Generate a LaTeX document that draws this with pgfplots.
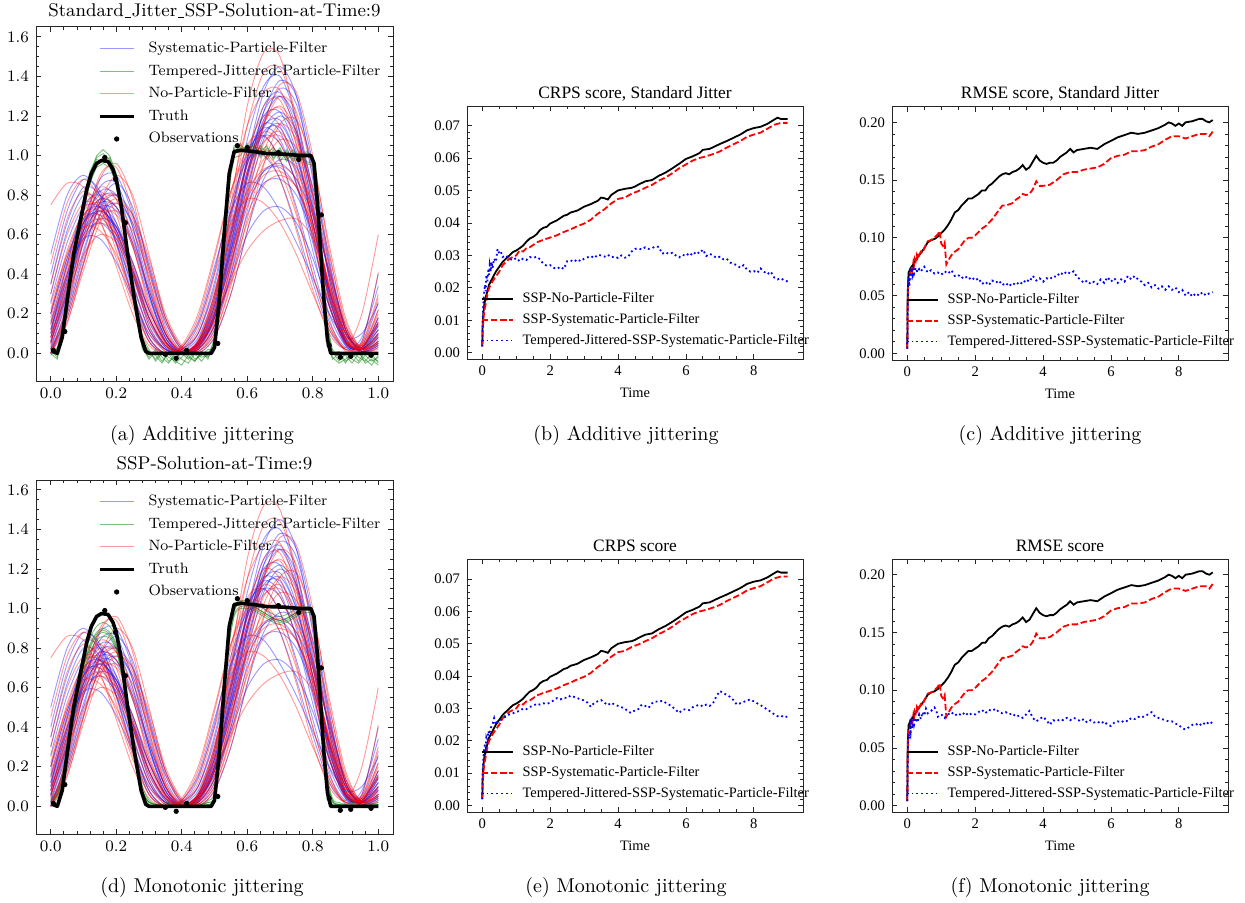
\documentclass[border=0pt]{standalone}
\usepackage{fontspec}
\usepackage{pgfplots}
\usepackage{pgfplotstable}
\pgfplotsset{compat=1.18}
\newfontfamily\timesf{Liberation Serif}
\newcommand\us{\kern0.03em\rule[-0.05em]{0.36em}{0.045em}\kern0.03em}

% ---------------- ensemble curves (rows = curves, transposed below) ----------------
\pgfplotstableread{
name c0 c1 c2 c3 c4 c5 c6 c7 c8 c9 c10 c11 c12 c13 c14 c15 c16 c17 c18 c19 c20
x 0 0.05 0.1 0.15 0.2 0.25 0.3 0.35 0.4 0.45 0.5 0.55 0.6 0.65 0.7 0.75 0.8 0.85 0.9 0.95 1.0
R1 0.05 0.40 0.72 0.82 0.70 0.42 0.14 0.02 0.01 0.06 0.28 0.62 0.92 1.07 1.10 0.95 0.62 0.25 0.05 0.03 0.12
R2 0.20 0.52 0.70 0.66 0.48 0.24 0.06 0.00 0.02 0.12 0.40 0.80 1.15 1.32 1.33 1.10 0.70 0.28 0.06 0.04 0.20
R3 0.00 0.25 0.62 0.90 0.94 0.72 0.38 0.10 0.00 0.02 0.12 0.38 0.66 0.85 0.90 0.84 0.64 0.35 0.10 0.00 0.03
R4 0.75 0.86 0.84 0.68 0.44 0.20 0.04 0.00 0.04 0.20 0.50 0.82 1.00 1.02 0.92 0.70 0.40 0.14 0.02 0.05 0.30
R5 0.10 0.30 0.50 0.60 0.56 0.40 0.18 0.04 0.00 0.06 0.30 0.72 1.15 1.42 1.44 1.20 0.78 0.32 0.06 0.02 0.10
R6 0.02 0.18 0.45 0.70 0.78 0.66 0.38 0.12 0.01 0.00 0.08 0.30 0.62 0.95 1.16 1.18 0.96 0.55 0.18 0.02 0.05
R7 0.35 0.68 0.82 0.74 0.52 0.26 0.06 0.00 0.03 0.15 0.40 0.66 0.78 0.76 0.66 0.50 0.30 0.12 0.02 0.03 0.15
R8 0.08 0.35 0.58 0.66 0.60 0.42 0.20 0.05 0.00 0.04 0.18 0.48 0.88 1.16 1.25 1.12 0.80 0.40 0.10 0.06 0.41
R9 0.00 0.22 0.58 0.88 0.96 0.78 0.42 0.12 0.00 0.03 0.25 0.75 1.25 1.52 1.50 1.15 0.62 0.18 0.01 0.03 0.15
R10 0.15 0.45 0.70 0.72 0.58 0.35 0.12 0.01 0.02 0.10 0.32 0.60 0.82 0.93 0.95 0.88 0.66 0.33 0.08 0.01 0.08
R11 0.45 0.76 0.88 0.78 0.55 0.28 0.08 0.00 0.03 0.18 0.48 0.82 1.03 1.02 0.88 0.62 0.32 0.10 0.03 0.20 0.60
R12 0.05 0.34 0.68 0.84 0.78 0.55 0.24 0.05 0.00 0.02 0.15 0.45 0.85 1.15 1.30 1.22 0.90 0.45 0.12 0.02 0.06
R13 0.25 0.50 0.64 0.62 0.50 0.30 0.10 0.01 0.00 0.05 0.18 0.36 0.52 0.62 0.67 0.68 0.58 0.34 0.10 0.02 0.10
R14 0.00 0.15 0.45 0.76 0.90 0.80 0.50 0.18 0.02 0.05 0.28 0.70 1.05 1.10 0.98 0.72 0.40 0.14 0.02 0.02 0.22
R15 0.12 0.42 0.68 0.80 0.78 0.60 0.32 0.10 0.01 0.04 0.22 0.58 0.98 1.25 1.28 1.05 0.66 0.28 0.06 0.02 0.09
R16 0.30 0.60 0.76 0.74 0.60 0.38 0.16 0.04 0.00 0.07 0.30 0.66 1.02 1.20 1.15 0.92 0.58 0.24 0.05 0.04 0.22
R17 0.04 0.26 0.56 0.76 0.80 0.68 0.44 0.18 0.03 0.01 0.10 0.36 0.72 1.02 1.16 1.08 0.80 0.42 0.12 0.02 0.05
R18 0.18 0.46 0.66 0.70 0.62 0.46 0.24 0.07 0.00 0.03 0.16 0.44 0.80 1.06 1.12 0.98 0.70 0.34 0.08 0.03 0.18
R19 0.08 0.36 0.64 0.78 0.74 0.54 0.26 0.06 0.00 0.06 0.26 0.62 0.96 1.12 1.06 0.86 0.60 0.30 0.08 0.02 0.07
R20 0.02 0.20 0.48 0.68 0.72 0.62 0.40 0.16 0.02 0.02 0.14 0.42 0.80 1.15 1.36 1.32 1.00 0.52 0.14 0.01 0.04
R21 0.22 0.50 0.72 0.76 0.64 0.42 0.18 0.04 0.00 0.05 0.22 0.50 0.76 0.90 0.92 0.84 0.64 0.36 0.12 0.04 0.16
R22 0.06 0.30 0.58 0.72 0.70 0.56 0.32 0.10 0.01 0.03 0.20 0.55 0.92 1.18 1.24 1.06 0.72 0.34 0.08 0.05 0.28
R23 0.14 0.40 0.62 0.68 0.60 0.44 0.22 0.06 0.00 0.04 0.18 0.46 0.78 0.98 1.02 0.92 0.72 0.42 0.14 0.02 0.06
R24 0.00 0.16 0.42 0.66 0.76 0.70 0.48 0.20 0.04 0.01 0.10 0.34 0.68 0.96 1.08 1.04 0.84 0.50 0.16 0.02 0.02
}\redraw
\pgfplotstabletranspose[colnames from=name]{\redT}{\redraw}

\pgfplotstableread{
name c0 c1 c2 c3 c4 c5 c6 c7 c8 c9 c10 c11 c12 c13 c14 c15 c16 c17 c18 c19 c20
x 0 0.05 0.1 0.15 0.2 0.25 0.3 0.35 0.4 0.45 0.5 0.55 0.6 0.65 0.7 0.75 0.8 0.85 0.9 0.95 1.0
B1 0.10 0.45 0.74 0.80 0.66 0.40 0.14 0.02 0.00 0.05 0.24 0.60 0.95 1.15 1.18 1.00 0.66 0.28 0.06 0.02 0.10
B2 0.02 0.28 0.62 0.84 0.86 0.64 0.30 0.06 0.00 0.03 0.18 0.50 0.88 1.18 1.30 1.18 0.82 0.38 0.08 0.01 0.06
B3 0.30 0.62 0.80 0.76 0.56 0.30 0.08 0.00 0.02 0.10 0.34 0.70 1.00 1.14 1.08 0.85 0.52 0.20 0.04 0.03 0.18
B4 0.05 0.30 0.56 0.68 0.64 0.46 0.22 0.06 0.00 0.04 0.20 0.55 0.98 1.32 1.45 1.30 0.88 0.38 0.06 0.02 0.12
B5 0.00 0.20 0.50 0.76 0.86 0.74 0.44 0.14 0.01 0.00 0.08 0.30 0.62 0.88 0.98 0.94 0.74 0.40 0.12 0.01 0.03
B6 0.40 0.72 0.88 0.82 0.60 0.32 0.08 0.00 0.02 0.14 0.42 0.76 0.98 1.00 0.88 0.64 0.36 0.12 0.02 0.08 0.34
B7 0.12 0.40 0.66 0.74 0.66 0.44 0.18 0.03 0.00 0.06 0.28 0.68 1.08 1.35 1.40 1.18 0.76 0.30 0.05 0.03 0.15
B8 0.06 0.32 0.64 0.82 0.80 0.60 0.30 0.08 0.00 0.02 0.14 0.40 0.70 0.86 0.88 0.80 0.60 0.32 0.10 0.02 0.06
B9 0.20 0.48 0.68 0.70 0.56 0.34 0.12 0.02 0.01 0.08 0.30 0.64 0.96 1.10 1.06 0.86 0.56 0.24 0.05 0.02 0.14
B10 0.00 0.24 0.56 0.78 0.80 0.64 0.34 0.10 0.00 0.02 0.18 0.52 0.90 1.22 1.38 1.30 0.96 0.48 0.12 0.01 0.05
B11 0.50 0.80 0.90 0.80 0.56 0.28 0.06 0.00 0.03 0.16 0.44 0.72 0.86 0.84 0.72 0.56 0.38 0.20 0.08 0.10 0.25
B12 0.08 0.36 0.62 0.72 0.64 0.42 0.18 0.04 0.00 0.05 0.22 0.56 0.92 1.14 1.22 1.12 0.84 0.44 0.12 0.02 0.08
B13 0.15 0.40 0.58 0.58 0.46 0.28 0.10 0.02 0.00 0.04 0.16 0.38 0.60 0.72 0.74 0.66 0.48 0.24 0.06 0.02 0.10
B14 0.03 0.30 0.66 0.88 0.90 0.70 0.36 0.10 0.00 0.03 0.20 0.58 0.98 1.25 1.32 1.14 0.72 0.26 0.04 0.02 0.18
B15 0.10 0.38 0.66 0.78 0.74 0.56 0.30 0.08 0.00 0.04 0.20 0.54 0.90 1.12 1.14 0.96 0.66 0.30 0.06 0.02 0.08
B16 0.26 0.56 0.74 0.74 0.62 0.40 0.18 0.04 0.00 0.06 0.26 0.62 0.98 1.16 1.12 0.90 0.58 0.24 0.05 0.03 0.16
B17 0.02 0.22 0.52 0.74 0.80 0.70 0.46 0.18 0.03 0.01 0.12 0.40 0.78 1.08 1.20 1.10 0.80 0.40 0.10 0.01 0.04
B18 0.16 0.44 0.66 0.72 0.64 0.46 0.22 0.06 0.00 0.04 0.18 0.48 0.84 1.10 1.16 1.00 0.70 0.32 0.07 0.02 0.12
B19 0.06 0.32 0.60 0.74 0.72 0.54 0.28 0.08 0.00 0.05 0.24 0.60 0.96 1.20 1.22 1.02 0.66 0.28 0.06 0.02 0.09
B20 0.00 0.18 0.46 0.70 0.76 0.66 0.42 0.16 0.02 0.02 0.14 0.44 0.82 1.16 1.34 1.26 0.92 0.46 0.12 0.01 0.04
B21 0.20 0.48 0.70 0.74 0.62 0.40 0.16 0.03 0.00 0.06 0.24 0.52 0.78 0.92 0.94 0.84 0.62 0.32 0.10 0.03 0.14
B22 0.08 0.34 0.62 0.76 0.74 0.58 0.32 0.10 0.01 0.03 0.18 0.52 0.90 1.22 1.30 1.12 0.74 0.32 0.07 0.04 0.26
B23 0.12 0.38 0.60 0.66 0.58 0.42 0.22 0.06 0.00 0.05 0.20 0.46 0.74 0.92 0.96 0.88 0.70 0.42 0.14 0.02 0.05
B24 0.35 0.66 0.84 0.80 0.62 0.36 0.12 0.02 0.01 0.10 0.36 0.72 1.02 1.10 0.98 0.74 0.44 0.16 0.03 0.06 0.40
}\blueraw
\pgfplotstabletranspose[colnames from=name]{\blueT}{\blueraw}

% tempered-jittered ensemble, additive jittering
\pgfplotstableread{
x g1 g2 g3 g4 g5
0.00 0.02 -0.01 0.03 0.00 0.01
0.02 -0.02 0.03 0.01 -0.03 0.02
0.04 0.16 0.12 0.18 0.13 0.15
0.06 0.41 0.36 0.42 0.38 0.40
0.08 0.61 0.57 0.62 0.56 0.60
0.10 0.78 0.73 0.76 0.72 0.77
0.12 0.92 0.87 0.90 0.86 0.91
0.14 0.99 0.94 1.00 0.95 0.98
0.16 1.01 0.96 1.03 0.99 0.97
0.18 0.98 0.94 1.00 0.96 0.99
0.20 0.90 0.86 0.91 0.85 0.89
0.22 0.71 0.67 0.72 0.66 0.70
0.24 0.46 0.42 0.47 0.41 0.45
0.26 0.24 0.20 0.25 0.19 0.23
0.28 0.06 0.03 0.08 0.02 0.05
0.30 0.01 -0.03 0.02 -0.02 0.00
0.32 -0.03 0.01 -0.04 0.02 -0.01
0.34 0.01 -0.04 0.00 -0.02 -0.05
0.36 -0.04 0.00 -0.02 -0.05 0.01
0.38 -0.02 -0.05 -0.04 0.00 -0.03
0.40 0.00 -0.02 -0.06 -0.03 0.01
0.42 -0.03 0.02 -0.01 -0.05 -0.02
0.44 0.01 -0.03 -0.04 0.00 -0.04
0.46 -0.02 -0.01 0.01 -0.04 0.00
0.48 -0.01 0.02 -0.03 0.00 -0.02
0.50 0.06 0.02 0.08 0.04 0.03
0.52 0.48 0.41 0.50 0.44 0.46
0.54 0.86 0.80 0.88 0.83 0.85
0.56 1.04 0.99 1.05 1.01 1.03
0.58 1.05 1.00 1.06 1.02 1.04
0.60 1.03 1.06 1.00 1.05 1.02
0.62 1.05 1.01 1.04 0.99 1.06
0.64 1.00 1.04 1.02 1.05 0.99
0.66 1.03 0.98 1.05 1.01 1.04
0.68 0.99 1.03 0.98 1.04 1.00
0.70 1.02 0.97 1.03 0.99 1.04
0.72 0.98 1.02 0.99 1.03 0.97
0.74 1.01 0.97 1.03 0.98 1.02
0.76 0.97 1.01 0.98 1.02 0.99
0.78 1.00 0.96 1.02 0.97 1.01
0.80 0.98 0.95 1.00 0.96 0.99
0.82 0.62 0.55 0.64 0.57 0.60
0.84 0.16 0.11 0.18 0.12 0.15
0.86 0.01 -0.03 0.02 -0.02 0.00
0.88 -0.04 0.00 -0.02 -0.05 0.01
0.90 0.00 -0.05 -0.01 -0.03 -0.04
0.92 -0.03 0.01 -0.05 0.00 -0.02
0.94 -0.05 -0.02 0.00 -0.04 0.01
0.96 -0.01 -0.04 -0.03 0.01 -0.05
0.98 -0.04 0.00 -0.06 -0.02 -0.03
1.00 -0.02 -0.05 -0.01 -0.04 -0.06
}\greenA

% tempered-jittered ensemble, monotonic jittering
\pgfplotstableread{
x g1 g2 g3 g4 g5
0.00 0.03 0.02 0.04 0.01 0.03
0.02 0.06 0.05 0.08 0.04 0.06
0.04 0.18 0.16 0.21 0.14 0.18
0.06 0.40 0.37 0.43 0.35 0.39
0.08 0.58 0.55 0.61 0.53 0.57
0.10 0.72 0.70 0.75 0.68 0.71
0.12 0.82 0.80 0.85 0.78 0.81
0.14 0.88 0.86 0.91 0.84 0.87
0.16 0.90 0.88 0.93 0.86 0.89
0.18 0.88 0.86 0.91 0.85 0.87
0.20 0.82 0.80 0.85 0.79 0.81
0.22 0.66 0.64 0.69 0.63 0.65
0.24 0.44 0.42 0.47 0.41 0.43
0.26 0.23 0.22 0.26 0.20 0.22
0.28 0.08 0.07 0.10 0.06 0.08
0.30 0.02 0.02 0.03 0.01 0.02
0.32 0.01 0.01 0.01 0.00 0.01
0.34 0.00 0.01 0.01 0.00 0.00
0.36 0.01 0.00 0.02 0.00 0.01
0.38 0.00 0.01 0.01 0.01 0.00
0.40 0.01 0.00 0.02 0.00 0.01
0.42 0.00 0.01 0.01 0.00 0.01
0.44 0.01 0.01 0.02 0.00 0.00
0.46 0.01 0.00 0.01 0.01 0.01
0.48 0.02 0.01 0.03 0.01 0.02
0.50 0.06 0.05 0.08 0.04 0.06
0.52 0.44 0.40 0.48 0.38 0.43
0.54 0.82 0.78 0.85 0.76 0.81
0.56 0.99 0.97 1.01 0.96 0.99
0.58 1.03 1.01 1.04 1.00 1.02
0.60 1.03 1.01 1.04 1.00 1.02
0.62 1.01 1.00 1.03 0.99 1.01
0.64 0.99 0.98 1.01 0.97 0.99
0.66 0.97 0.96 0.99 0.95 0.97
0.68 0.95 0.94 0.97 0.93 0.95
0.70 0.94 0.93 0.96 0.92 0.94
0.72 0.95 0.94 0.97 0.93 0.95
0.74 0.97 0.96 0.99 0.95 0.97
0.76 0.99 0.98 1.01 0.97 0.99
0.78 1.00 0.99 1.01 0.98 1.00
0.80 0.96 0.95 0.98 0.94 0.96
0.82 0.62 0.58 0.66 0.56 0.61
0.84 0.18 0.15 0.21 0.13 0.17
0.86 0.03 0.02 0.04 0.01 0.03
0.88 0.01 0.01 0.02 0.00 0.01
0.90 0.01 0.00 0.01 0.01 0.00
0.92 0.00 0.01 0.02 0.00 0.01
0.94 0.01 0.00 0.01 0.00 0.01
0.96 0.00 0.01 0.02 0.01 0.00
0.98 0.01 0.00 0.01 0.00 0.01
1.00 0.01 0.01 0.02 0.00 0.01
}\greenB

\pgfplotstableread{
x y
0.005 0.01
0.02 0.0
0.035 0.08
0.053 0.30
0.07 0.50
0.093 0.69
0.11 0.83
0.124 0.91
0.14 0.96
0.155 0.975
0.175 0.97
0.19 0.93
0.2 0.88
0.215 0.75
0.235 0.50
0.256 0.27
0.276 0.08
0.29 0.01
0.3 0.0
0.49 0.0
0.5 0.03
0.515 0.27
0.53 0.61
0.545 0.91
0.56 1.02
0.58 1.027
0.62 1.02
0.66 1.01
0.713 1.007
0.763 1.0
0.794 1.0
0.804 0.96
0.814 0.77
0.824 0.52
0.834 0.27
0.845 0.067
0.855 0.0
1.0 0.0
}\truth

\pgfplotstableread{
x y
0.008 0.015
0.043 0.11
0.165 0.99
0.198 0.88
0.228 0.66
0.35 -0.005
0.383 -0.025
0.415 0.015
0.51 0.05
0.57 1.05
0.60 1.04
0.695 1.015
0.757 0.98
0.826 0.70
0.85 0.04
0.884 -0.02
0.916 -0.015
0.978 -0.01
}\obs

% ---------------- score time series ----------------
\pgfplotstableread{
t v
0 0.002
0.01 0.008
0.03 0.012
0.06 0.015
0.1 0.017
0.15 0.019
0.2 0.021
0.3 0.023
0.4 0.025
0.5 0.0265
0.6 0.028
0.7 0.029
0.8 0.030
0.9 0.031
1.0 0.0315
1.1 0.0322
1.2 0.033
1.3 0.0342
1.4 0.0352
1.5 0.0357
1.6 0.0365
1.7 0.0378
1.8 0.0385
1.9 0.0388
2.0 0.0398
2.2 0.0408
2.4 0.0422
2.5 0.0425
2.6 0.0432
2.8 0.0438
3.0 0.0450
3.2 0.0458
3.4 0.0468
3.5 0.0478
3.6 0.0476
3.7 0.0472
3.8 0.0486
4.0 0.0500
4.2 0.0505
4.4 0.0508
4.5 0.0512
4.6 0.0518
4.8 0.0528
5.0 0.0532
5.2 0.0545
5.4 0.0555
5.6 0.0568
5.8 0.0582
6.0 0.0597
6.2 0.0605
6.4 0.0615
6.5 0.0625
6.7 0.0628
6.9 0.0638
7.0 0.0643
7.2 0.0652
7.4 0.0662
7.6 0.0672
7.8 0.0685
8.0 0.0692
8.2 0.0696
8.4 0.0705
8.6 0.0718
8.7 0.0724
8.8 0.0720
9.0 0.0720
}\crpsK

\pgfplotstableread{
t v
0 0.002
0.01 0.006
0.03 0.010
0.06 0.013
0.1 0.015
0.15 0.018
0.2 0.020
0.3 0.022
0.4 0.0235
0.5 0.025
0.6 0.027
0.7 0.028
0.8 0.029
0.9 0.0295
1.0 0.0300
1.1 0.0315
1.2 0.0312
1.3 0.0322
1.4 0.0325
1.5 0.0332
1.6 0.0340
1.8 0.0348
2.0 0.0355
2.2 0.0362
2.4 0.0372
2.6 0.0380
2.8 0.0390
3.0 0.0398
3.2 0.0410
3.4 0.0428
3.5 0.0435
3.6 0.0442
3.8 0.0460
4.0 0.0474
4.2 0.0478
4.4 0.0490
4.6 0.0498
4.8 0.0508
5.0 0.0517
5.2 0.0530
5.4 0.0540
5.6 0.0553
5.8 0.0568
6.0 0.0580
6.2 0.0592
6.4 0.0600
6.6 0.0605
6.8 0.0612
7.0 0.0620
7.2 0.0632
7.4 0.0642
7.6 0.0652
7.8 0.0665
8.0 0.0672
8.2 0.0678
8.4 0.0690
8.6 0.0702
8.8 0.0708
9.0 0.0708
}\crpsR

\pgfplotstableread{
t v
0 0.002
0.01 0.010
0.03 0.015
0.05 0.018
0.08 0.021
0.1 0.019
0.12 0.024
0.15 0.022
0.18 0.026
0.2 0.024
0.22 0.027
0.25 0.025
0.28 0.028
0.3 0.026
0.35 0.029
0.4 0.028
0.45 0.032
0.5 0.0305
0.55 0.031
0.6 0.0295
0.7 0.030
0.8 0.029
0.9 0.0285
1.0 0.0292
1.1 0.0282
1.2 0.0290
1.3 0.0286
1.4 0.0295
1.5 0.0292
1.6 0.0296
1.7 0.0288
1.8 0.0274
1.9 0.0268
2.0 0.0270
2.1 0.0262
2.2 0.0258
2.3 0.0265
2.4 0.0258
2.5 0.0282
2.6 0.0285
2.7 0.0280
2.8 0.0288
2.9 0.0282
3.0 0.0290
3.2 0.0298
3.3 0.0292
3.4 0.0302
3.5 0.0300
3.6 0.0296
3.7 0.0302
3.8 0.0294
3.9 0.0297
4.0 0.0292
4.1 0.0300
4.2 0.0293
4.3 0.0296
4.4 0.0312
4.5 0.0320
4.6 0.0322
4.7 0.0318
4.8 0.0325
4.9 0.0320
5.0 0.0322
5.1 0.0328
5.2 0.0326
5.3 0.0305
5.4 0.0310
5.5 0.0304
5.6 0.0308
5.7 0.0300
5.8 0.0294
5.9 0.0302
6.0 0.0298
6.1 0.0308
6.2 0.0300
6.3 0.0312
6.4 0.0306
6.5 0.0318
6.6 0.0298
6.7 0.0305
6.8 0.0300
6.9 0.0292
7.0 0.0296
7.1 0.0288
7.2 0.0290
7.3 0.0278
7.4 0.0274
7.5 0.0270
7.6 0.0262
7.7 0.0270
7.8 0.0256
7.9 0.0250
8.0 0.0252
8.1 0.0246
8.2 0.0260
8.3 0.0250
8.4 0.0242
8.5 0.0250
8.6 0.0232
8.7 0.0226
8.8 0.0230
8.9 0.0222
9.0 0.0220
}\crpsBa

\pgfplotstableread{
t v
0 0.002
0.01 0.010
0.03 0.014
0.05 0.017
0.08 0.019
0.1 0.018
0.12 0.021
0.15 0.020
0.18 0.023
0.2 0.022
0.25 0.024
0.3 0.025
0.35 0.027
0.4 0.025
0.45 0.026
0.5 0.026
0.6 0.027
0.7 0.0275
0.8 0.0282
0.9 0.0285
1.0 0.029
1.1 0.0292
1.2 0.0300
1.3 0.0298
1.4 0.0305
1.5 0.0308
1.6 0.0315
1.7 0.0312
1.8 0.0316
1.9 0.0314
2.0 0.0318
2.1 0.0325
2.2 0.0332
2.3 0.0328
2.4 0.0334
2.5 0.0332
2.6 0.0340
2.7 0.0336
2.8 0.0332
2.9 0.0328
3.0 0.0325
3.1 0.0318
3.2 0.0305
3.3 0.0318
3.4 0.0322
3.5 0.0326
3.6 0.0318
3.7 0.0310
3.8 0.0318
3.9 0.0312
4.0 0.0308
4.1 0.0304
4.2 0.0300
4.3 0.0290
4.4 0.0286
4.5 0.0295
4.6 0.0298
4.7 0.0312
4.8 0.0308
4.9 0.0302
5.0 0.0316
5.1 0.0322
5.2 0.0320
5.3 0.0324
5.4 0.0318
5.5 0.0312
5.6 0.0305
5.7 0.0296
5.8 0.0286
5.9 0.0296
6.0 0.0298
6.1 0.0295
6.2 0.0304
6.3 0.0308
6.4 0.0312
6.5 0.0306
6.6 0.0312
6.7 0.0308
6.8 0.0316
6.9 0.0338
7.0 0.0354
7.1 0.0348
7.2 0.0342
7.3 0.0336
7.4 0.0326
7.5 0.0312
7.6 0.0316
7.7 0.0320
7.8 0.0325
7.9 0.0328
8.0 0.0322
8.1 0.0316
8.2 0.0310
8.3 0.0304
8.4 0.0296
8.5 0.0290
8.6 0.0282
8.7 0.0276
8.8 0.0278
8.9 0.0272
9.0 0.0276
}\crpsBb

\pgfplotstableread{
t v
0 0.004
0.01 0.045
0.02 0.060
0.04 0.070
0.07 0.072
0.1 0.074
0.15 0.076
0.2 0.078
0.25 0.081
0.3 0.083
0.35 0.085
0.4 0.087
0.5 0.091
0.6 0.096
0.7 0.098
0.8 0.099
0.9 0.101
1.0 0.104
1.1 0.107
1.2 0.111
1.3 0.116
1.4 0.122
1.5 0.124
1.6 0.128
1.7 0.131
1.8 0.134
1.9 0.134
2.0 0.136
2.1 0.138
2.2 0.141
2.3 0.141
2.4 0.145
2.5 0.147
2.6 0.150
2.7 0.153
2.8 0.155
2.9 0.156
3.0 0.155
3.1 0.157
3.2 0.158
3.3 0.160
3.4 0.163
3.5 0.159
3.6 0.161
3.7 0.166
3.8 0.171
3.9 0.167
4.0 0.165
4.1 0.164
4.2 0.165
4.3 0.165
4.4 0.167
4.5 0.170
4.6 0.172
4.7 0.174
4.8 0.177
4.9 0.174
5.0 0.176
5.2 0.177
5.4 0.178
5.6 0.177
5.8 0.181
6.0 0.184
6.2 0.187
6.4 0.189
6.6 0.191
6.8 0.190
7.0 0.191
7.2 0.193
7.4 0.195
7.6 0.198
7.7 0.200
7.8 0.199
7.9 0.197
8.0 0.199
8.1 0.197
8.2 0.200
8.4 0.201
8.6 0.203
8.7 0.203
8.8 0.201
8.9 0.200
9.0 0.202
}\rmseK

\pgfplotstableread{
t v
0 0.004
0.01 0.040
0.02 0.055
0.04 0.066
0.07 0.068
0.1 0.070
0.12 0.075
0.15 0.072
0.18 0.079
0.2 0.077
0.22 0.082
0.25 0.080
0.28 0.085
0.3 0.083
0.33 0.087
0.35 0.085
0.4 0.088
0.45 0.087
0.5 0.091
0.6 0.097
0.7 0.098
0.8 0.100
0.9 0.103
0.95 0.106
0.98 0.100
1.0 0.095
1.05 0.093
1.1 0.096
1.15 0.077
1.2 0.080
1.3 0.085
1.4 0.088
1.5 0.090
1.6 0.094
1.7 0.098
1.8 0.100
1.9 0.100
2.0 0.102
2.1 0.105
2.2 0.108
2.3 0.110
2.4 0.113
2.5 0.116
2.6 0.120
2.7 0.124
2.8 0.128
2.9 0.128
3.0 0.129
3.1 0.130
3.2 0.133
3.3 0.135
3.4 0.138
3.5 0.137
3.6 0.138
3.7 0.142
3.8 0.149
3.9 0.145
4.0 0.145
4.2 0.146
4.4 0.150
4.6 0.155
4.8 0.157
5.0 0.157
5.2 0.159
5.4 0.160
5.6 0.161
5.8 0.164
6.0 0.169
6.2 0.171
6.4 0.172
6.6 0.175
6.8 0.175
7.0 0.176
7.2 0.179
7.4 0.181
7.6 0.185
7.8 0.188
8.0 0.188
8.2 0.186
8.4 0.188
8.6 0.190
8.8 0.190
8.9 0.188
9.0 0.192
}\rmseR

\pgfplotstableread{
t v
0 0.004
0.01 0.035
0.02 0.055
0.04 0.066
0.06 0.058
0.08 0.072
0.1 0.064
0.12 0.074
0.15 0.068
0.18 0.073
0.2 0.069
0.25 0.074
0.3 0.070
0.35 0.073
0.4 0.071
0.5 0.075
0.6 0.070
0.7 0.072
0.8 0.069
0.9 0.070
1.0 0.068
1.1 0.071
1.2 0.069
1.3 0.072
1.4 0.067
1.5 0.068
1.6 0.065
1.7 0.067
1.8 0.064
1.9 0.066
2.0 0.063
2.1 0.065
2.2 0.060
2.3 0.062
2.4 0.059
2.5 0.063
2.6 0.061
2.7 0.063
2.8 0.059
2.9 0.061
3.0 0.058
3.1 0.061
3.2 0.059
3.3 0.062
3.4 0.060
3.5 0.064
3.6 0.062
3.7 0.067
3.8 0.063
3.9 0.065
4.0 0.062
4.1 0.065
4.2 0.064
4.3 0.067
4.4 0.066
4.5 0.070
4.6 0.068
4.7 0.071
4.8 0.069
4.9 0.071
5.0 0.066
5.1 0.064
5.2 0.061
5.3 0.063
5.4 0.060
5.5 0.062
5.6 0.060
5.7 0.064
5.8 0.061
5.9 0.066
6.0 0.062
6.1 0.065
6.2 0.061
6.3 0.064
6.4 0.062
6.5 0.067
6.6 0.064
6.7 0.067
6.8 0.064
6.9 0.062
7.0 0.059
7.1 0.061
7.2 0.057
7.3 0.059
7.4 0.056
7.5 0.058
7.6 0.055
7.7 0.058
7.8 0.055
7.9 0.057
8.0 0.053
8.1 0.055
8.2 0.050
8.3 0.053
8.4 0.049
8.5 0.052
8.6 0.050
8.7 0.053
8.8 0.050
8.9 0.052
9.0 0.053
}\rmseBa

\pgfplotstableread{
t v
0 0.004
0.01 0.035
0.02 0.052
0.04 0.062
0.06 0.058
0.08 0.068
0.1 0.064
0.12 0.072
0.15 0.067
0.18 0.074
0.2 0.070
0.25 0.076
0.3 0.072
0.35 0.079
0.4 0.075
0.45 0.081
0.5 0.078
0.55 0.084
0.6 0.080
0.7 0.082
0.8 0.085
0.85 0.083
0.9 0.077
1.0 0.079
1.1 0.076
1.2 0.079
1.3 0.081
1.4 0.078
1.5 0.080
1.6 0.078
1.7 0.081
1.8 0.078
1.9 0.080
2.0 0.079
2.1 0.081
2.2 0.083
2.3 0.080
2.4 0.083
2.5 0.082
2.6 0.084
2.7 0.081
2.8 0.080
2.9 0.081
3.0 0.079
3.1 0.080
3.2 0.077
3.3 0.078
3.4 0.076
3.5 0.079
3.6 0.082
3.7 0.076
3.8 0.073
3.9 0.075
4.0 0.077
4.1 0.074
4.2 0.070
4.3 0.074
4.4 0.073
4.5 0.075
4.6 0.074
4.7 0.076
4.8 0.074
4.9 0.076
5.0 0.075
5.1 0.073
5.2 0.075
5.3 0.072
5.4 0.074
5.5 0.072
5.6 0.073
5.7 0.071
5.8 0.073
5.9 0.070
6.0 0.069
6.1 0.072
6.2 0.073
6.3 0.072
6.4 0.074
6.5 0.073
6.6 0.076
6.7 0.075
6.8 0.077
6.9 0.076
7.0 0.078
7.1 0.079
7.2 0.081
7.3 0.077
7.4 0.076
7.5 0.075
7.6 0.074
7.7 0.073
7.8 0.073
7.9 0.071
8.0 0.070
8.1 0.067
8.2 0.066
8.3 0.068
8.4 0.070
8.5 0.071
8.6 0.069
8.7 0.072
8.8 0.070
8.9 0.073
9.0 0.071
}\rmseBb

\definecolor{mplgreen}{RGB}{0,128,0}

\pgfplotsset{
  every axis title shift=0pt,
  sciax/.style={
    scale only axis, tick align=inside,
    axis line style={line width=0.5pt,black!85},
    tick style={black!85,line width=0.4pt},
    major tick length=2.6pt, minor tick length=1.4pt,
    scaled ticks=false, clip=true,
  },
  solax/.style={
    sciax, width=178.5pt, height=177pt,
    xmin=-0.045, xmax=1.045, ymin=-0.14, ymax=1.65,
    xtick={0,0.2,0.4,0.6,0.8,1.0}, ytick={0,0.2,0.4,0.6,0.8,1.0,1.2,1.4,1.6},
    minor x tick num=4, minor y tick num=3,
    ticklabel style={font=\fontsize{7.8}{9}\selectfont},
    xticklabel style={/pgf/number format/.cd,fixed,fixed zerofill,precision=1},
    yticklabel style={/pgf/number format/.cd,fixed,fixed zerofill,precision=1},
    title style={font=\fontsize{9.2}{11}\selectfont, at={(0.5,1)}, anchor=base, yshift=5.2pt},
    legend style={draw=none, fill=none, at={(axis description cs:0.172,0.97)}, anchor=north west,
      font=\fontsize{7.5}{9}\selectfont, row sep=0.55pt, inner sep=0pt,
      /tikz/every odd column/.append style={column sep=4.5pt}},
    legend cell align=left,
  },
  tsax/.style={
    sciax, width=168pt, height=126.5pt,
    xmin=-0.45, xmax=9.45, xtick={0,2,4,6,8}, minor x tick num=3, minor y tick num=4,
    ticklabel style={font=\timesf\fontsize{7.3}{8.5}\selectfont},
    /pgf/number format/assume math mode=true,
    yticklabel style={/pgf/number format/.cd,fixed,fixed zerofill,precision=2,assume math mode=true},
    xticklabel style={/pgf/number format/.cd,assume math mode=true},
    xlabel={Time},
    xlabel style={font=\timesf\fontsize{7.2}{8.5}\selectfont, at={(axis description cs:0.5,0)}, anchor=base, yshift=-19.3pt},
    title style={font=\timesf\fontsize{8.7}{10}\selectfont, at={(0.5,1)}, anchor=base, yshift=4pt},
    legend style={draw=none, fill=none, anchor=south west,
      font=\timesf\fontsize{7.2}{8.5}\selectfont, row sep=-0.2pt, inner sep=0pt,
      /tikz/every odd column/.append style={column sep=2.5pt}},
    legend cell align=left,
    legend image code/.code={\draw[#1] (0pt,0pt) -- (15.5pt,0pt);},
  },
  bcurve/.style={blue, opacity=0.4, line width=0.45pt, smooth},
  rcurve/.style={red, opacity=0.4, line width=0.45pt, smooth},
  gcurveA/.style={mplgreen, opacity=0.5, line width=0.45pt},
  gcurveB/.style={mplgreen, opacity=0.5, line width=0.45pt, smooth},
  truthline/.style={black, line width=1.8pt, line join=round},
  obsmark/.style={only marks, mark=*, mark size=1.1pt, black},
  kline/.style={black, line width=0.9pt},
  rline/.style={red, line width=0.9pt, dash pattern=on 3.2pt off 1.4pt},
  bline/.style={blue, line width=0.9pt, dash pattern=on 0.9pt off 1.5pt},
}

\begin{document}
\begin{tikzpicture}
\useasboundingbox (0,0) rectangle (622.5pt,-451.5pt);

% (a)
\begin{axis}[solax, at={(18pt,-190.5pt)}, anchor=south west,
  title={Standard\us Jitter\us SSP-Solution-at-Time:9}]
\addplot[bcurve] table[x=x,y=B1]{\blueT}; \addlegendentry{Systematic-Particle-Filter}
\pgfplotsinvokeforeach{2,...,24}{\addplot[bcurve,forget plot] table[x=x,y=B#1]{\blueT};}
\addplot[gcurveA] table[x=x,y=g1]{\greenA}; \addlegendentry{Tempered-Jittered-Particle-Filter}
\pgfplotsinvokeforeach{2,...,5}{\addplot[gcurveA,forget plot] table[x=x,y=g#1]{\greenA};}
\addplot[rcurve] table[x=x,y=R1]{\redT}; \addlegendentry{No-Particle-Filter}
\pgfplotsinvokeforeach{2,...,24}{\addplot[rcurve,forget plot] table[x=x,y=R#1]{\redT};}
\addplot[truthline] table[x=x,y=y]{\truth}; \addlegendentry{Truth}
\addplot[obsmark] table[x=x,y=y]{\obs}; \addlegendentry{Observations}
\end{axis}

% (d)
\begin{axis}[solax, at={(18pt,-417pt)}, anchor=south west,
  title={SSP-Solution-at-Time:9}]
\addplot[bcurve] table[x=x,y=B1]{\blueT}; \addlegendentry{Systematic-Particle-Filter}
\pgfplotsinvokeforeach{2,...,24}{\addplot[bcurve,forget plot] table[x=x,y=B#1]{\blueT};}
\addplot[gcurveB] table[x=x,y=g1]{\greenB}; \addlegendentry{Tempered-Jittered-Particle-Filter}
\pgfplotsinvokeforeach{2,...,5}{\addplot[gcurveB,forget plot] table[x=x,y=g#1]{\greenB};}
\addplot[rcurve] table[x=x,y=R1]{\redT}; \addlegendentry{No-Particle-Filter}
\pgfplotsinvokeforeach{2,...,24}{\addplot[rcurve,forget plot] table[x=x,y=R#1]{\redT};}
\addplot[truthline] table[x=x,y=y]{\truth}; \addlegendentry{Truth}
\addplot[obsmark] table[x=x,y=y]{\obs}; \addlegendentry{Observations}
\end{axis}

% (b)
\begin{axis}[tsax, at={(233.5pt,-179.5pt)}, anchor=south west,
  ymin=-0.0019, ymax=0.076, ytick={0,0.01,0.02,0.03,0.04,0.05,0.06,0.07},
  title={CRPS score, Standard Jitter},
  legend style={at={(axis description cs:0.04,0.03)}}]
\addplot[kline] table[x=t,y=v]{\crpsK}; \addlegendentry{SSP-No-Particle-Filter}
\addplot[rline] table[x=t,y=v]{\crpsR}; \addlegendentry{SSP-Systematic-Particle-Filter}
\addplot[bline] table[x=t,y=v]{\crpsBa}; \addlegendentry{Tempered-Jittered-SSP-Systematic-Particle-Filter}
\end{axis}

% (c)
\begin{axis}[tsax, at={(446pt,-180pt)}, anchor=south west,
  ymin=-0.0058, ymax=0.2133, ytick={0,0.05,0.1,0.15,0.2},
  title={RMSE score, Standard Jitter},
  legend style={at={(axis description cs:0.04,0.03)}}]
\addplot[kline] table[x=t,y=v]{\rmseK}; \addlegendentry{SSP-No-Particle-Filter}
\addplot[rline] table[x=t,y=v]{\rmseR}; \addlegendentry{SSP-Systematic-Particle-Filter}
\addplot[bline] table[x=t,y=v]{\rmseBa}; \addlegendentry{Tempered-Jittered-SSP-Systematic-Particle-Filter}
\end{axis}

% (e)
\begin{axis}[tsax, at={(233.5pt,-406pt)}, anchor=south west,
  ymin=-0.002, ymax=0.0762, ytick={0,0.01,0.02,0.03,0.04,0.05,0.06,0.07},
  title={CRPS score},
  legend style={at={(axis description cs:0.04,0.03)}}]
\addplot[kline] table[x=t,y=v]{\crpsK}; \addlegendentry{SSP-No-Particle-Filter}
\addplot[rline] table[x=t,y=v]{\crpsR}; \addlegendentry{SSP-Systematic-Particle-Filter}
\addplot[bline] table[x=t,y=v]{\crpsBb}; \addlegendentry{Tempered-Jittered-SSP-Systematic-Particle-Filter}
\end{axis}

% (f)
\begin{axis}[tsax, at={(446pt,-406pt)}, anchor=south west,
  ymin=-0.0055, ymax=0.2136, ytick={0,0.05,0.1,0.15,0.2},
  title={RMSE score},
  legend style={at={(axis description cs:0.04,0.03)}}]
\addplot[kline] table[x=t,y=v]{\rmseK}; \addlegendentry{SSP-No-Particle-Filter}
\addplot[rline] table[x=t,y=v]{\rmseR}; \addlegendentry{SSP-Systematic-Particle-Filter}
\addplot[bline] table[x=t,y=v]{\rmseBb}; \addlegendentry{Tempered-Jittered-SSP-Systematic-Particle-Filter}
\end{axis}

% sub-captions
\begin{scope}[every node/.style={font=\fontsize{10}{12}\selectfont, anchor=base, inner sep=0pt}]
\node at (101pt,-220pt) {(a) Additive jittering};
\node at (313pt,-220pt) {(b) Additive jittering};
\node at (525pt,-220pt) {(c) Additive jittering};
\node at (101pt,-446pt) {(d) Monotonic jittering};
\node at (313pt,-446pt) {(e) Monotonic jittering};
\node at (525pt,-446pt) {(f) Monotonic jittering};
\end{scope}
\end{tikzpicture}
\end{document}
